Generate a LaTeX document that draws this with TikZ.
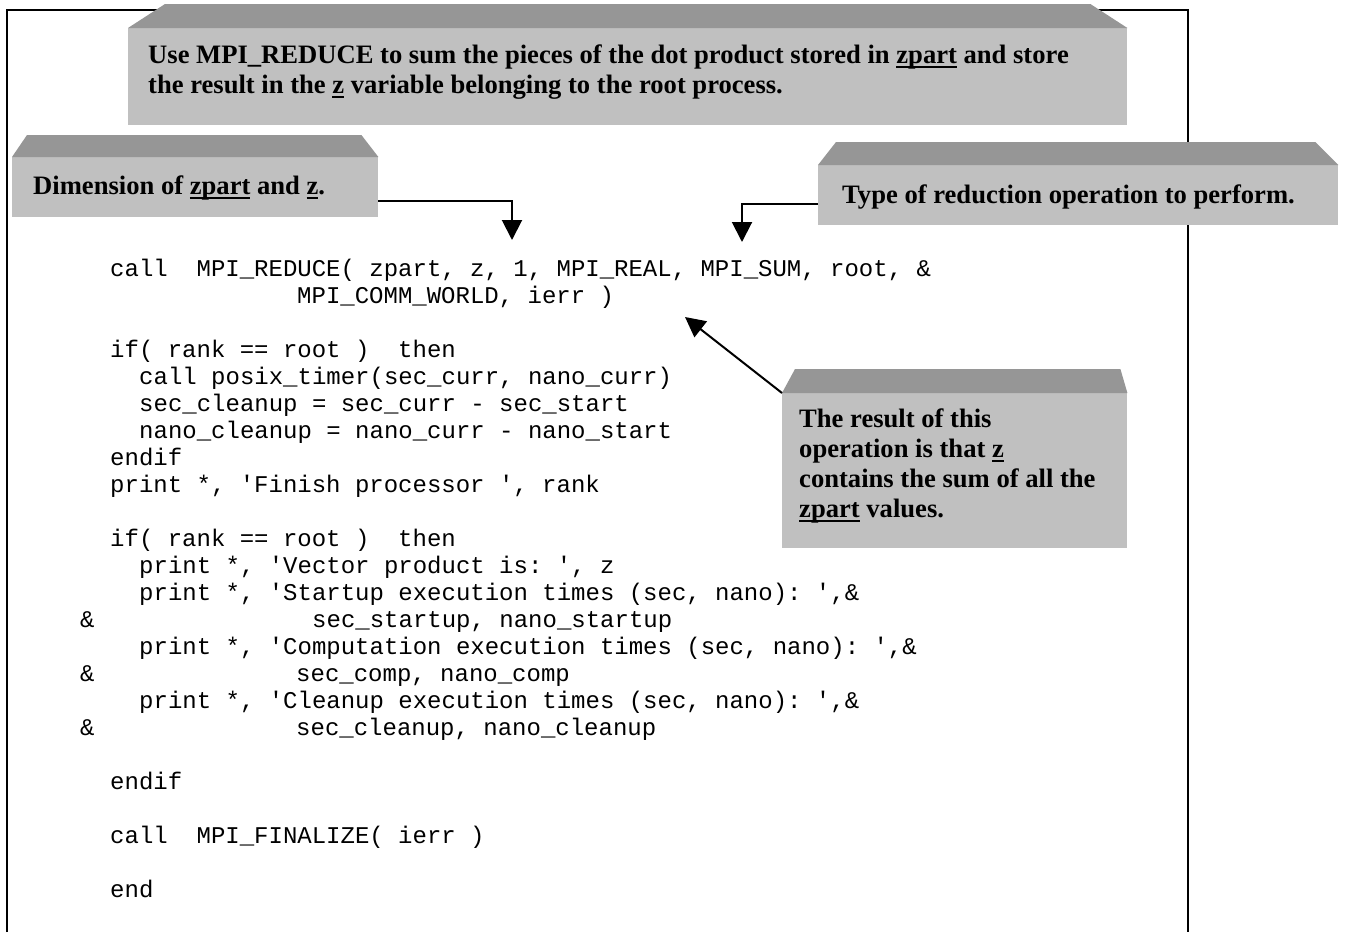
\documentclass[tikz,border=0pt]{standalone}
\usepackage{fontspec}
\setmainfont{Liberation Serif}
\setmonofont{Liberation Mono}
\usetikzlibrary{arrows.meta}
\definecolor{facegray}{RGB}{192,192,192}
\definecolor{bevelgray}{RGB}{150,150,150}
\newcommand{\uword}[1]{\setbox0\hbox{#1}\rlap{\rule[-5pt]{\wd0}{1.8pt}}\box0\relax}
% bevel on top of a callout: node, left inset, right inset, height
\newcommand{\bevel}[4]{%
  \fill[bevelgray] (#1.north west) -- ([shift={(#2pt,#4pt)}]#1.north west)
    -- ([shift={(-#3pt,#4pt)}]#1.north east) -- (#1.north east) -- cycle;}
\begin{document}
\begin{tikzpicture}[x=1pt, y=-1pt,
    face/.style={fill=facegray, inner sep=0pt, anchor=north west},
    note/.style={inner sep=0pt, anchor=north west, align=left,
      font=\fontsize{26.6}{30}\selectfont\bfseries},
    code/.style={inner sep=0pt, anchor=base west,
      font=\fontsize{24}{27}\selectfont\ttfamily\frenchspacing},
    pointer/.style={line width=2pt, -{Triangle[width=20pt,length=20pt]}}]
  \useasboundingbox (0,0) rectangle (1347,932);
  % frame
  \draw[line width=2pt] (7,932) -- (7,10) -- (1188,10) -- (1188,932);

  % callouts
  \node[face, minimum width=999pt, minimum height=97pt] (reducebox) at (128,28) {};
  \bevel{reducebox}{37}{37}{24}
  \node[note] (reducetext) at (148,42) {\strut Use MPI\_REDUCE to sum the pieces of the dot product stored in \uword{zpart} and store\\
    the result in the \uword{z} variable belonging to the root process.};

  \node[face, minimum width=366pt, minimum height=60pt] (dimbox) at (12,157) {};
  \bevel{dimbox}{15}{17}{22}
  \node[note] (dimtext) at (33,173) {\strut Dimension of \uword{zpart} and \uword{z}.};

  \node[face, minimum width=520pt, minimum height=60pt] (opbox) at (818,165) {};
  \bevel{opbox}{18}{23}{23}
  \node[note] (optext) at (842,182) {\strut Type of reduction operation to perform.};

  \node[face, minimum width=345pt, minimum height=155pt] (sumbox) at (782,393) {};
  \bevel{sumbox}{13}{7}{24}
  \node[note] (sumtext) at (799,406) {\strut The result of this\\
    operation is that \uword{z}\\
    contains the sum of all the\\
    \uword{zpart} values.};

  % arrows
  \coordinate (zarg) at (512,240);
  \coordinate (oparg) at (742,242);
  \coordinate (zvar) at (685,317);
  \draw[pointer] ([yshift=-14pt]dimbox.east) -| (zarg);
  \draw[pointer] ([yshift=-9pt]opbox.west) -| (oparg);
  \draw[pointer] (sumbox.north west) -- (zvar);

  % fortran code
  \foreach \x/\y/\txt [count=\n] in {
      110/276/{call\ \ MPI\_REDUCE( zpart, z, 1, MPI\_REAL, MPI\_SUM, root, \&},
      297/303/{MPI\_COMM\_WORLD, ierr )},
      110/357/{if( rank == root )\ \ then},
      139/384/{call posix\_timer(sec\_curr, nano\_curr)},
      139/411/{sec\_cleanup = sec\_curr - sec\_start},
      139/438/{nano\_cleanup = nano\_curr - nano\_start},
      110/465/{endif},
      110/492/{print *, 'Finish processor ', rank},
      110/546/{if( rank == root )\ \ then},
      139/573/{print *, 'Vector product is: ', z},
      139/600/{print *, 'Startup execution times (sec, nano): ',\&},
      80/627/{\&},
      312/627/{sec\_startup, nano\_startup},
      139/654/{print *, 'Computation execution times (sec, nano): ',\&},
      80/681/{\&},
      296/681/{sec\_comp, nano\_comp},
      139/708/{print *, 'Cleanup execution times (sec, nano): ',\&},
      80/735/{\&},
      296/735/{sec\_cleanup, nano\_cleanup},
      110/789/{endif},
      110/843/{call\ \ MPI\_FINALIZE( ierr )},
      110/897/{end}} {
    \node[code] (code\n) at (\x,\y) {\txt};
  }
\end{tikzpicture}
\end{document}
